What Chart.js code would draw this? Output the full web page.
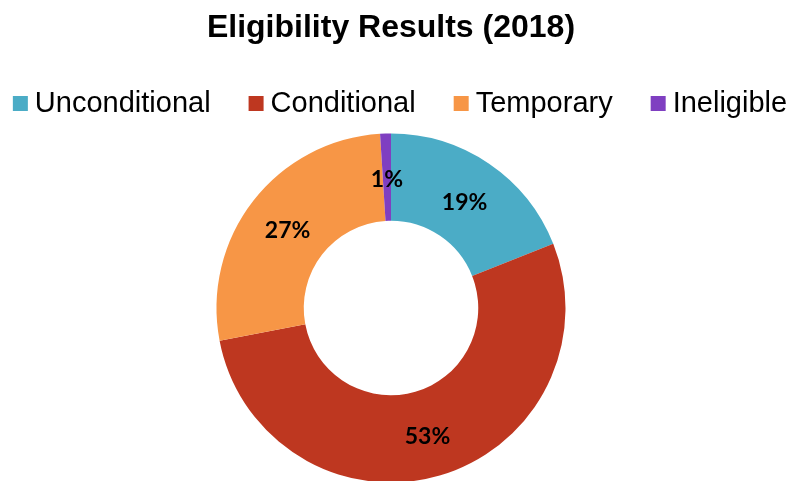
<!DOCTYPE html>
<html>
<head>
<meta charset="utf-8">
<script src="https://cdn.jsdelivr.net/npm/chart.js@4/dist/chart.umd.min.js"></script>
<style>
  html, body { margin: 0; padding: 0; background: #ffffff; }
  #wrap { width: 792px; height: 481px; position: relative; }
</style>
</head>
<body>
<div id="wrap"><canvas id="c" width="792" height="481"></canvas></div>
<script>
const categories = ["Unconditional", "Conditional", "Temporary", "Ineligible"];
const values = [19, 53, 27, 1];
const valueLabels = ["19%", "53%", "27%", "1%"];
const colors = ["#4BACC6", "#BE3720", "#F79646", "#7F3FC1"];
const titleText = "Eligibility Results (2018)";

const legendPlugin = {
  id: 'customLegend',
  afterDraw(chart) {
    const ctx = chart.ctx;
    ctx.save();
    ctx.font = '29px "Liberation Sans", Arial, sans-serif';
    ctx.textBaseline = 'alphabetic';
    ctx.textAlign = 'left';
    const box = 15, gapText = 7, gapItem = 38;
    const widths = categories.map(t => ctx.measureText(t).width);
    let total = 0;
    widths.forEach((w, i) => { total += box + gapText + w + (i < widths.length - 1 ? gapItem : 0); });
    let x = 400 - total / 2;
    const boxTop = 96, baseline = 112;
    categories.forEach((t, i) => {
      ctx.fillStyle = colors[i];
      ctx.fillRect(x, boxTop, box, box);
      ctx.fillStyle = '#000000';
      ctx.fillText(t, x + box + gapText, baseline);
      x += box + gapText + widths[i] + gapItem;
    });
    ctx.restore();
  }
};

const labelPlugin = {
  id: 'sliceLabels',
  afterDatasetsDraw(chart) {
    const ctx = chart.ctx;
    const meta = chart.getDatasetMeta(0);
    ctx.save();
    ctx.font = 'bold 23px Lato, "Open Sans", sans-serif';
    ctx.fillStyle = '#000000';
    ctx.textAlign = 'center';
    ctx.textBaseline = 'middle';
    meta.data.forEach((arc, i) => {
      const p = arc.getCenterPoint();
      ctx.fillText(valueLabels[i], p.x, p.y + 2.5);
    });
    ctx.restore();
  }
};

new Chart(document.getElementById('c'), {
  type: 'doughnut',
  data: {
    labels: categories,
    datasets: [{
      data: values,
      backgroundColor: colors,
      borderWidth: 0,
      hoverOffset: 0,
      clip: false
    }]
  },
  options: {
    responsive: false,
    animation: false,
    radius: 174.5,
    cutout: '50%',
    layout: { padding: { left: 0, right: 10, top: 0, bottom: 0 } },
    plugins: {
      legend: { display: false },
      tooltip: { enabled: false },
      title: {
        display: true,
        text: titleText,
        color: '#000000',
        font: { family: '"Liberation Sans", Arial, sans-serif', size: 32, weight: 'bold' },
        padding: { top: 9, bottom: 87.6 }
      }
    }
  },
  plugins: [labelPlugin, legendPlugin]
});
</script>
</body>
</html>
